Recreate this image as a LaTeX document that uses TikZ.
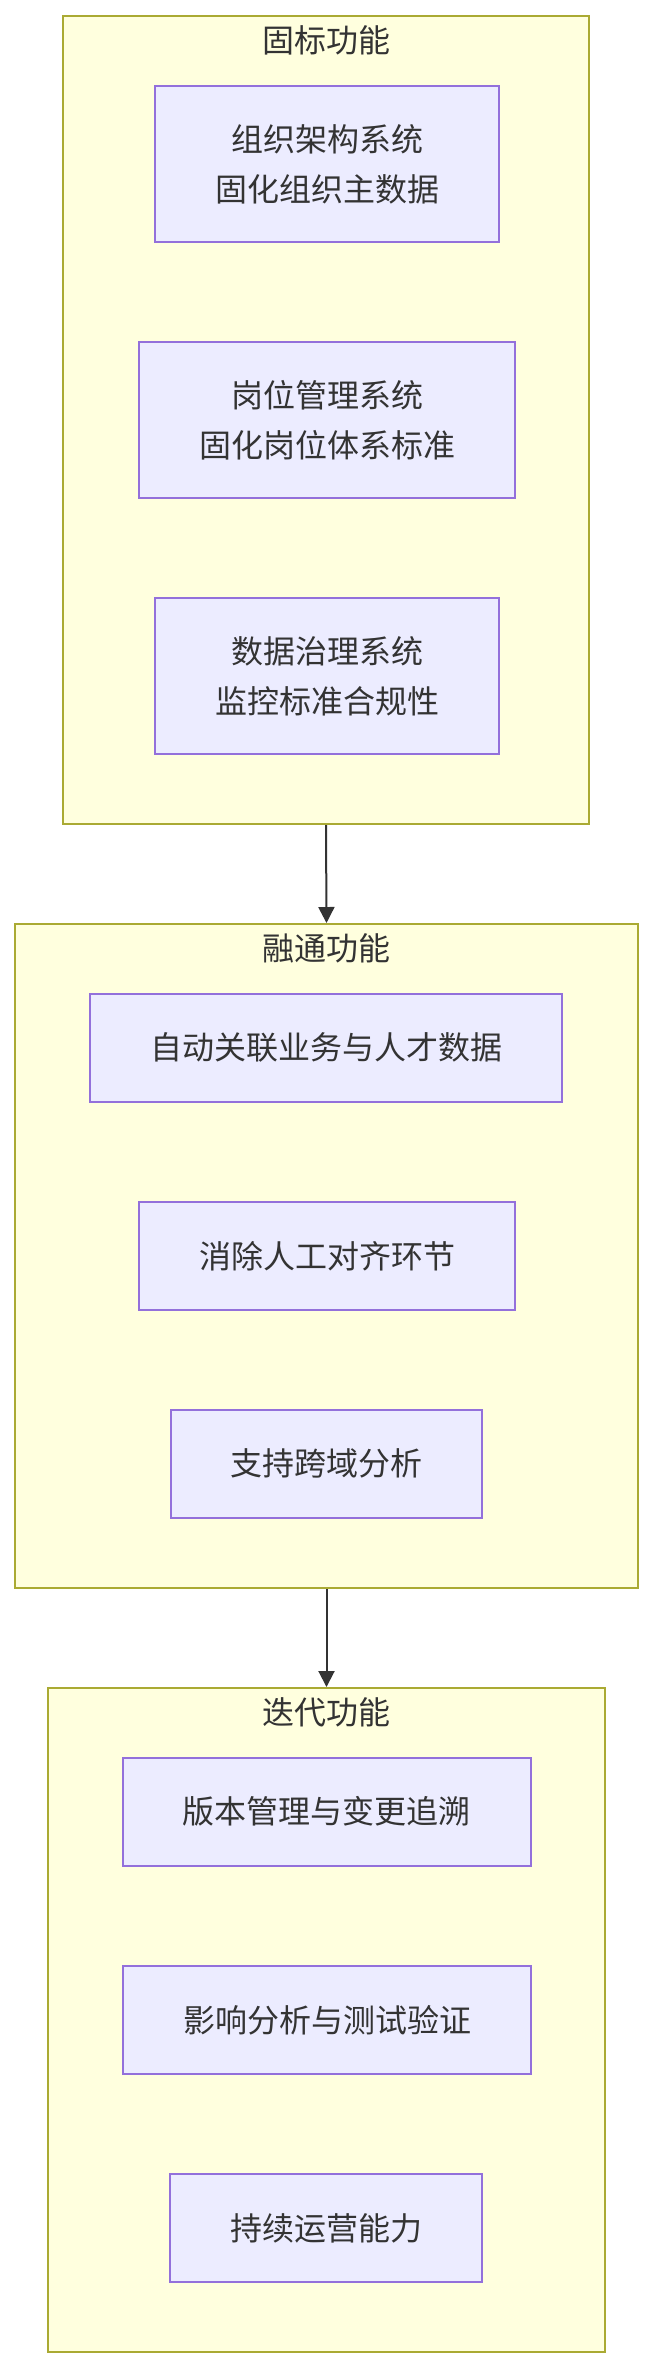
\documentclass[tikz,border=0pt]{standalone}
\usepackage{fontspec}
\setmainfont{Noto Sans CJK SC}
\usetikzlibrary{arrows.meta}
\definecolor{grpfill}{HTML}{FFFFDE}
\definecolor{grpline}{HTML}{AAAA33}
\definecolor{boxfill}{HTML}{ECECFF}
\definecolor{boxline}{HTML}{9370DB}
\definecolor{ink}{HTML}{333333}

\begin{document}
\begin{tikzpicture}[
    x=0.5pt, y=-0.5pt,
    every node/.style={font=\fontsize{16pt}{25pt}\selectfont, text=ink},
    group/.style={rectangle, draw=grpline, fill=grpfill, line width=1pt, inner sep=0pt},
    gtitle/.style={inner sep=0pt},
    box/.style={rectangle, draw=boxline, fill=boxfill, line width=1pt, align=center,
                minimum height=54pt, inner sep=0pt},
    tall/.style={box, minimum height=78pt},
    flow/.style={draw=ink, line width=1pt, -{Triangle[length=8pt,width=8pt]}}
  ]
  \useasboundingbox (0,0) rectangle (654,2368);

  % Groups
  \node[group, minimum width=263pt, minimum height=404pt] (fix)  at (326,420)    {};
  \node[group, minimum width=311.5pt, minimum height=332pt] (link) at (326.5,1256) {};
  \node[group, minimum width=278.5pt, minimum height=332pt] (iter) at (326.5,2020) {};
  \node[gtitle] (fixT)  at (326,40)   {固标功能};
  \node[gtitle] (linkT) at (326,948)  {融通功能};
  \node[gtitle] (iterT) at (326,1712) {迭代功能};

  % First group
  \node[tall, minimum width=172pt] (org)  at (327,164) {组织架构系统\\固化组织主数据};
  \node[tall, minimum width=188pt] (post) at (327,420) {岗位管理系统\\固化岗位体系标准};
  \node[tall, minimum width=172pt] (gov)  at (327,676) {数据治理系统\\监控标准合规性};

  % Second group
  \node[box, minimum width=236pt] (auto)  at (326,1047.5) {自动关联业务与人才数据};
  \node[box, minimum width=188pt] (manual) at (327,1256)  {消除人工对齐环节};
  \node[box, minimum width=155.5pt] (cross) at (326.5,1463.5) {支持跨域分析};

  % Third group
  \node[box, minimum width=204pt] (ver)  at (326.5,1811.5) {版本管理与变更追溯};
  \node[box, minimum width=204pt] (test) at (327,2020)     {影响分析与测试验证};
  \node[box, minimum width=156pt] (ops)  at (326,2228)     {持续运营能力};

  % Group links
  \draw[flow] (fix.south) -- (link.north);
  \draw[flow] (link.south) -- (iter.north);
\end{tikzpicture}
\end{document}
